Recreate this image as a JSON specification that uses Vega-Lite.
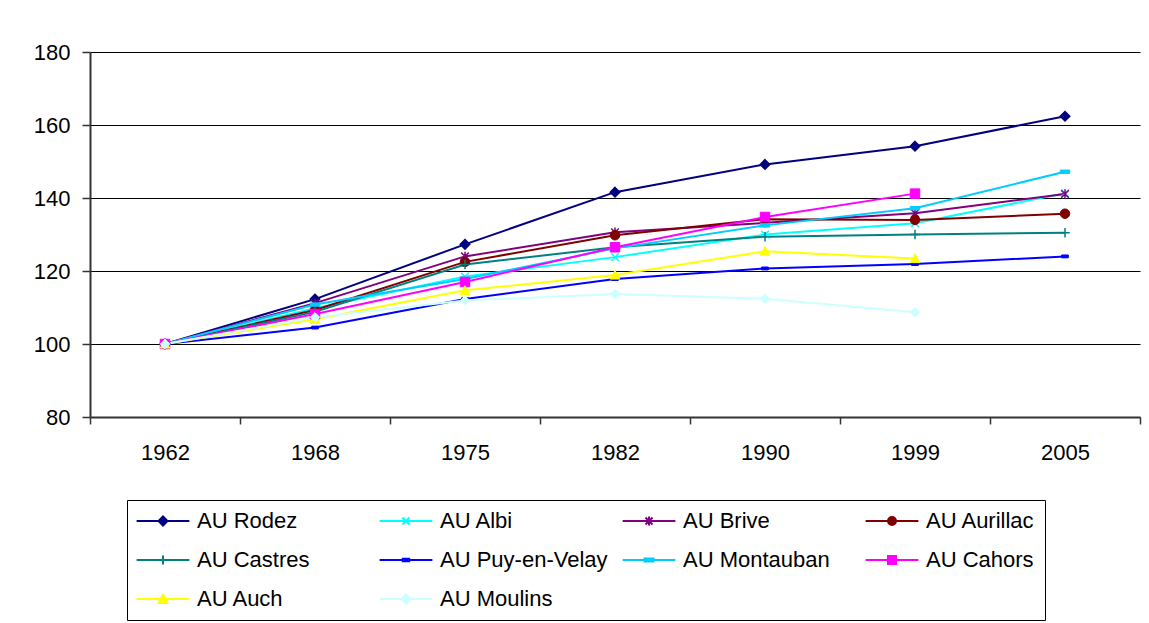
{
  "$schema": "https://vega.github.io/schema/vega-lite/v6.json",
  "width": 1050,
  "height": 365,
  "autosize": {"type": "none"},
  "padding": {"left": 90, "top": 52, "right": 9, "bottom": 206},
  "background": "white",
  "config": {
    "font": "Liberation Sans",
    "view": {"stroke": null},
    "axis": {"labelFont": "Liberation Sans", "labelFontSize": 22, "labelColor": "black"},
    "legend": {"labelFont": "Liberation Sans", "labelFontSize": 22, "labelColor": "black"}
  },
  "data": {
    "values": [
      {"year": "1962", "series": "AU Rodez", "value": 100},
      {"year": "1968", "series": "AU Rodez", "value": 112.3},
      {"year": "1975", "series": "AU Rodez", "value": 127.3},
      {"year": "1982", "series": "AU Rodez", "value": 141.6},
      {"year": "1990", "series": "AU Rodez", "value": 149.2},
      {"year": "1999", "series": "AU Rodez", "value": 154.2},
      {"year": "2005", "series": "AU Rodez", "value": 162.4},
      {"year": "1962", "series": "AU Albi", "value": 100},
      {"year": "1968", "series": "AU Albi", "value": 109.8},
      {"year": "1975", "series": "AU Albi", "value": 118.5},
      {"year": "1982", "series": "AU Albi", "value": 123.8},
      {"year": "1990", "series": "AU Albi", "value": 130.0},
      {"year": "1999", "series": "AU Albi", "value": 133.1},
      {"year": "2005", "series": "AU Albi", "value": 141.3},
      {"year": "1962", "series": "AU Brive", "value": 100},
      {"year": "1968", "series": "AU Brive", "value": 111.2},
      {"year": "1975", "series": "AU Brive", "value": 124.0},
      {"year": "1982", "series": "AU Brive", "value": 130.6},
      {"year": "1990", "series": "AU Brive", "value": 133.2},
      {"year": "1999", "series": "AU Brive", "value": 135.8},
      {"year": "2005", "series": "AU Brive", "value": 141.1},
      {"year": "1962", "series": "AU Aurillac", "value": 100},
      {"year": "1968", "series": "AU Aurillac", "value": 109.3},
      {"year": "1975", "series": "AU Aurillac", "value": 122.5},
      {"year": "1982", "series": "AU Aurillac", "value": 129.8},
      {"year": "1990", "series": "AU Aurillac", "value": 134.2},
      {"year": "1999", "series": "AU Aurillac", "value": 134.0},
      {"year": "2005", "series": "AU Aurillac", "value": 135.7},
      {"year": "1962", "series": "AU Castres", "value": 100},
      {"year": "1968", "series": "AU Castres", "value": 108.8},
      {"year": "1975", "series": "AU Castres", "value": 121.8},
      {"year": "1982", "series": "AU Castres", "value": 126.5},
      {"year": "1990", "series": "AU Castres", "value": 129.4},
      {"year": "1999", "series": "AU Castres", "value": 130.0},
      {"year": "2005", "series": "AU Castres", "value": 130.5},
      {"year": "1962", "series": "AU Puy-en-Velay", "value": 100},
      {"year": "1968", "series": "AU Puy-en-Velay", "value": 104.5},
      {"year": "1975", "series": "AU Puy-en-Velay", "value": 112.3},
      {"year": "1982", "series": "AU Puy-en-Velay", "value": 117.8},
      {"year": "1990", "series": "AU Puy-en-Velay", "value": 120.7},
      {"year": "1999", "series": "AU Puy-en-Velay", "value": 121.9},
      {"year": "2005", "series": "AU Puy-en-Velay", "value": 124.0},
      {"year": "1962", "series": "AU Montauban", "value": 100},
      {"year": "1968", "series": "AU Montauban", "value": 110.8},
      {"year": "1975", "series": "AU Montauban", "value": 117.8},
      {"year": "1982", "series": "AU Montauban", "value": 126.2},
      {"year": "1990", "series": "AU Montauban", "value": 132.5},
      {"year": "1999", "series": "AU Montauban", "value": 137.2},
      {"year": "2005", "series": "AU Montauban", "value": 147.2},
      {"year": "1962", "series": "AU Cahors", "value": 100},
      {"year": "1968", "series": "AU Cahors", "value": 108.2},
      {"year": "1975", "series": "AU Cahors", "value": 117.0},
      {"year": "1982", "series": "AU Cahors", "value": 126.5},
      {"year": "1990", "series": "AU Cahors", "value": 134.8},
      {"year": "1999", "series": "AU Cahors", "value": 141.2},
      {"year": "1962", "series": "AU Auch", "value": 100},
      {"year": "1968", "series": "AU Auch", "value": 106.8},
      {"year": "1975", "series": "AU Auch", "value": 114.7},
      {"year": "1982", "series": "AU Auch", "value": 118.9},
      {"year": "1990", "series": "AU Auch", "value": 125.4},
      {"year": "1999", "series": "AU Auch", "value": 123.4},
      {"year": "1962", "series": "AU Moulins", "value": 100},
      {"year": "1968", "series": "AU Moulins", "value": 107.3},
      {"year": "1975", "series": "AU Moulins", "value": 111.9},
      {"year": "1982", "series": "AU Moulins", "value": 113.7},
      {"year": "1990", "series": "AU Moulins", "value": 112.4},
      {"year": "1999", "series": "AU Moulins", "value": 108.7}
    ]
  },
  "encoding": {
    "x": {
      "field": "year", "type": "ordinal", "title": null,
      "scale": {"type": "band", "paddingInner": 0, "paddingOuter": 0},
      "axis": {
        "labelAngle": 0, "tickBand": "extent", "tickSize": 7, "labelPadding": 18,
        "domainColor": "#333333", "domainWidth": 2, "tickColor": "#333333", "tickWidth": 1.5,
        "grid": false
      }
    },
    "y": {
      "field": "value", "type": "quantitative", "title": null,
      "scale": {"domain": [80, 180], "nice": false, "zero": false},
      "axis": {
        "values": [80, 100, 120, 140, 160, 180], "tickSize": 8, "labelPadding": 12,
        "domainColor": "#333333", "domainWidth": 2, "tickColor": "#333333", "tickWidth": 1.5,
        "grid": true, "gridColor": "black", "gridWidth": 1, "gridOpacity": 1
      }
    }
  },
  "layer": [
    {
      "mark": {"type": "line", "strokeWidth": 2},
      "encoding": {
        "color": {
          "field": "series", "type": "nominal",
          "scale": {
            "domain": ["AU Rodez", "AU Albi", "AU Brive", "AU Aurillac", "AU Castres", "AU Puy-en-Velay", "AU Montauban", "AU Cahors", "AU Auch", "AU Moulins"],
            "range": ["#000080", "#00FFFF", "#800080", "#800000", "#008080", "#0000FF", "#00CCFF", "#FF00FF", "#FFFF00", "#CCFFFF"]
          },
          "legend": {
            "title": null,
            "orient": "none", "legendX": 37, "legendY": 448,
            "direction": "horizontal", "columns": 4, "gridAlign": "all",
            "columnPadding": 10, "rowPadding": 17,
            "padding": 10, "strokeColor": "black", "fillColor": "white",
            "symbolSize": 256, "symbolStrokeWidth": 2, "symbolOffset": 15, "labelOffset": 23, "labelLimit": 300,
            "encode": {
              "symbols": {
                "update": {
                  "shape": {"signal": "['M-3.3,0H3.3M0,-0.56L0.56,0L0,0.56L-0.56,0Z','M-3.3,0H3.3M-0.44,-0.44L0.44,0.44M-0.44,0.44L0.44,-0.44','M-3.3,0H3.3M-0.44,-0.44L0.44,0.44M-0.44,0.44L0.44,-0.44M0,-0.56V0.56','M-3.3,0H3.3M0.5,0A0.5,0.5,0,1,1,-0.5,0A0.5,0.5,0,1,1,0.5,0Z','M-3.3,0H3.3M0,-0.56V0.56','M-3.3,0H3.3M-0.4,-0.17H0.4V0.17H-0.4Z','M-3.3,0H3.3M-0.56,-0.2H0.56V0.2H-0.56Z','M-3.3,0H3.3M-0.5,-0.5H0.5V0.5H-0.5Z','M-3.3,0H3.3M0,-0.56L0.56,0.5H-0.56Z','M-3.3,0H3.3M0,-0.56L0.56,0L0,0.56L-0.56,0Z'][indexof(['AU Rodez','AU Albi','AU Brive','AU Aurillac','AU Castres','AU Puy-en-Velay','AU Montauban','AU Cahors','AU Auch','AU Moulins'], datum.value)]"},
                  "stroke": {"signal": "scale('color', datum.value)"},
                  "fill": {"signal": "scale('color', datum.value)"},
                  "opacity": {"value": 1},
                  "strokeWidth": {"value": 2}
                }
              }
            }
          }
        }
      }
    },
    {"transform": [{"filter": "datum.series === 'AU Rodez'"}], "mark": {"type": "point", "shape": "M0,-1L1,0L0,1L-1,0Z", "filled": true, "size": 90, "strokeWidth": 1.5, "opacity": 1, "fill": "#000080", "stroke": "#000080"}},
    {"transform": [{"filter": "datum.series === 'AU Albi'"}], "mark": {"type": "point", "shape": "M-0.8,-0.8L0.8,0.8M-0.8,0.8L0.8,-0.8", "filled": true, "size": 90, "strokeWidth": 1.5, "opacity": 1, "fill": "#00FFFF", "stroke": "#00FFFF"}},
    {"transform": [{"filter": "datum.series === 'AU Brive'"}], "mark": {"type": "point", "shape": "M-0.8,-0.8L0.8,0.8M-0.8,0.8L0.8,-0.8M0,-1V1", "filled": true, "size": 90, "strokeWidth": 1.5, "opacity": 1, "fill": "#800080", "stroke": "#800080"}},
    {"transform": [{"filter": "datum.series === 'AU Aurillac'"}], "mark": {"type": "point", "shape": "circle", "filled": true, "size": 90, "strokeWidth": 1, "opacity": 1, "fill": "#800000", "stroke": "#800000"}},
    {"transform": [{"filter": "datum.series === 'AU Castres'"}], "mark": {"type": "point", "shape": "M-1,0H1M0,-1V1", "filled": true, "size": 90, "strokeWidth": 1.5, "opacity": 1, "fill": "#008080", "stroke": "#008080"}},
    {"transform": [{"filter": "datum.series === 'AU Puy-en-Velay'"}], "mark": {"type": "point", "shape": "M-0.7,-0.3H0.7V0.3H-0.7Z", "filled": true, "size": 90, "strokeWidth": 1, "opacity": 1, "fill": "#0000FF", "stroke": "#0000FF"}},
    {"transform": [{"filter": "datum.series === 'AU Montauban'"}], "mark": {"type": "point", "shape": "M-1,-0.35H1V0.35H-1Z", "filled": true, "size": 90, "strokeWidth": 1, "opacity": 1, "fill": "#00CCFF", "stroke": "#00CCFF"}},
    {"transform": [{"filter": "datum.series === 'AU Cahors'"}], "mark": {"type": "point", "shape": "square", "filled": true, "size": 90, "strokeWidth": 1, "opacity": 1, "fill": "#FF00FF", "stroke": "#FF00FF"}},
    {"transform": [{"filter": "datum.series === 'AU Auch'"}], "mark": {"type": "point", "shape": "M0,-1L1,0.85H-1Z", "filled": true, "size": 90, "strokeWidth": 1, "opacity": 1, "fill": "#FFFF00", "stroke": "#FFFF00"}},
    {"transform": [{"filter": "datum.series === 'AU Moulins'"}], "mark": {"type": "point", "shape": "M0,-1L1,0L0,1L-1,0Z", "filled": true, "size": 90, "strokeWidth": 1, "opacity": 1, "fill": "#CCFFFF", "stroke": "#CCFFFF"}}
  ]
}
